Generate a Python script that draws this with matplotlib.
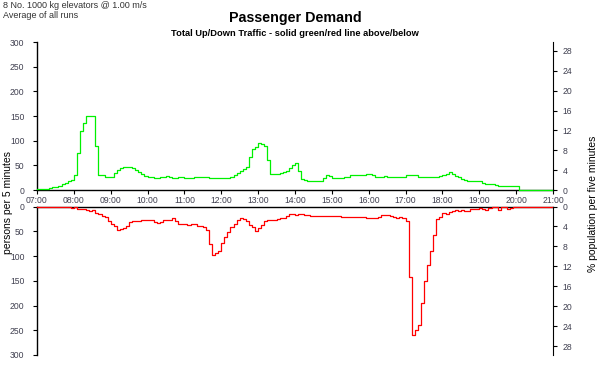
import numpy as np
import matplotlib.pyplot as plt

plt.rcParams['font.family'] = ['Liberation Sans', 'DejaVu Sans']

# persons per 5 minutes, 07:00 .. 21:00 (one row per hour)
up = [3, 3, 3, 3, 5, 7, 7, 9, 12, 14, 18, 21,
      30, 75, 120, 135, 150, 150, 150, 90, 30, 30, 27, 27,
      27, 35, 40, 45, 47, 47, 47, 45, 40, 36, 32, 28,
      27, 27, 25, 25, 27, 27, 29, 27, 25, 25, 27, 27,
      25, 25, 25, 27, 27, 27, 27, 27, 25, 25, 25, 25,
      25, 25, 25, 27, 30, 34, 38, 42, 46, 66, 83, 88,
      95, 93, 90, 60, 32, 32, 32, 34, 36, 39, 45, 51,
      54, 38, 22, 20, 18, 18, 18, 18, 18, 24, 30, 28,
      25, 25, 25, 25, 27, 27, 30, 30, 30, 30, 30, 32,
      32, 30, 26, 26, 26, 29, 26, 26, 26, 26, 26, 26,
      30, 30, 30, 30, 26, 26, 26, 26, 26, 26, 26, 29,
      31, 33, 37, 33, 29, 26, 23, 20, 18, 18, 18, 18,
      18, 15, 12, 12, 12, 10, 8, 8, 8, 8, 8, 8,
      8, 0, 0, 0, 0, 0, 0, 0, 0, 0, 0, 0]

down = [0, 0, 0, 0, 0, 0, 1, 1, 1, 1, 1, 3,
        2, 5, 5, 5, 7, 10, 8, 13, 16, 19, 22, 30,
        35, 40, 48, 45, 43, 40, 32, 30, 30, 30, 28, 28,
        28, 28, 31, 34, 31, 28, 28, 28, 24, 30, 36, 36,
        35, 37, 35, 35, 40, 40, 42, 48, 75, 97, 94, 89,
        73, 61, 51, 42, 35, 27, 24, 26, 30, 37, 42, 50,
        44, 37, 30, 28, 28, 28, 26, 23, 23, 19, 15, 15,
        17, 15, 15, 17, 17, 19, 19, 19, 19, 20, 20, 20,
        20, 20, 20, 22, 22, 22, 22, 22, 21, 21, 21, 24,
        24, 24, 24, 21, 17, 18, 18, 20, 22, 23, 22, 24,
        30, 142, 260, 249, 240, 195, 151, 119, 89, 58, 25, 22,
        14, 16, 12, 10, 8, 10, 8, 9, 9, 6, 6, 6,
        4, 6, 7, 4, 1, 1, 7, 1, 0, 5, 3, 2,
        0, 0, 0, 0, 0, 0, 0, 0, 0, 0, 0, 0]

hour_labels = ['07:00', '08:00', '09:00', '10:00', '11:00', '12:00', '13:00', '14:00',
               '15:00', '16:00', '17:00', '18:00', '19:00', '20:00', '21:00']
persons_ticks = [0, 50, 100, 150, 200, 250, 300]
pct_ticks = [0, 4, 8, 12, 16, 20, 24, 28]
pct_max = 29.8  # 300 persons as % of population

t = 7 + np.arange(len(up) + 1) / 12.0
tick_col = '#404050'

fig = plt.figure(figsize=(6.02, 3.71), dpi=100)
W, H = 602.0, 371.0
ax1 = fig.add_axes([37 / W, 1 - 190 / H, 516 / W, 148 / H])
ax2 = fig.add_axes([37 / W, 1 - 355 / H, 516 / W, 148.5 / H])

ax1.plot(t, up + [up[-1]], drawstyle='steps-post', color='#00f000', lw=0.9,
         clip_on=False, zorder=3)
ax2.plot(t, down + [down[-1]], drawstyle='steps-post', color='#ff0000', lw=0.9,
         clip_on=False, zorder=3)

ax1.set_xlim(7, 21)
ax1.set_ylim(0, 300)
ax2.set_xlim(7, 21)
ax2.set_ylim(300, 0)

for ax in (ax1, ax2):
    ax.set_yticks(persons_ticks)
    ax.spines['right'].set_visible(False)
    ax.tick_params(axis='y', direction='out', length=3, width=0.8, pad=6,
                   labelsize=6.2, labelcolor=tick_col)
    ax.patch.set_alpha(0)

ax1.spines['top'].set_visible(False)
ax1.set_xticks(range(7, 22))
ax1.set_xticklabels(hour_labels)
ax1.tick_params(axis='x', direction='out', length=3, width=0.8, pad=1.5,
                labelsize=6.2, labelcolor=tick_col)

ax2.spines['bottom'].set_visible(False)
ax2.set_xticks([])

for ax, lims in ((ax1, (0, pct_max)), (ax2, (pct_max, 0))):
    tw = ax.twinx()
    tw.set_ylim(*lims)
    tw.set_yticks(pct_ticks)
    for s in ('top', 'left', 'bottom'):
        tw.spines[s].set_visible(False)
    tw.tick_params(axis='y', direction='out', length=3, width=0.8, pad=4,
                   labelsize=6.2, labelcolor=tick_col)

for ax in (ax1, ax2):
    for s in ax.spines.values():
        s.set_linewidth(1.0)

fig.text(295 / W, 1 - 18 / H, 'Passenger Demand', ha='center', va='center',
         fontsize=10.3, fontweight='bold')
fig.text(295 / W, 1 - 33 / H, 'Total Up/Down Traffic - solid green/red line above/below',
         ha='center', va='center', fontsize=6.7, fontweight='bold')
fig.text(3 / W, 1 - 6 / H, '8 No. 1000 kg elevators @ 1.00 m/s', ha='left', va='center',
         fontsize=6.5, color='#333333')
fig.text(3 / W, 1 - 16 / H, 'Average of all runs', ha='left', va='center',
         fontsize=6.5, color='#333333')
fig.text(8 / W, 1 - 203 / H, 'persons per 5 minutes', rotation=90, ha='center',
         va='center', fontsize=7.5)
fig.text(593 / W, 1 - 204 / H, '% population per five minutes', rotation=90,
         ha='center', va='center', fontsize=7.5)

fig.savefig('out.png', dpi=100)
